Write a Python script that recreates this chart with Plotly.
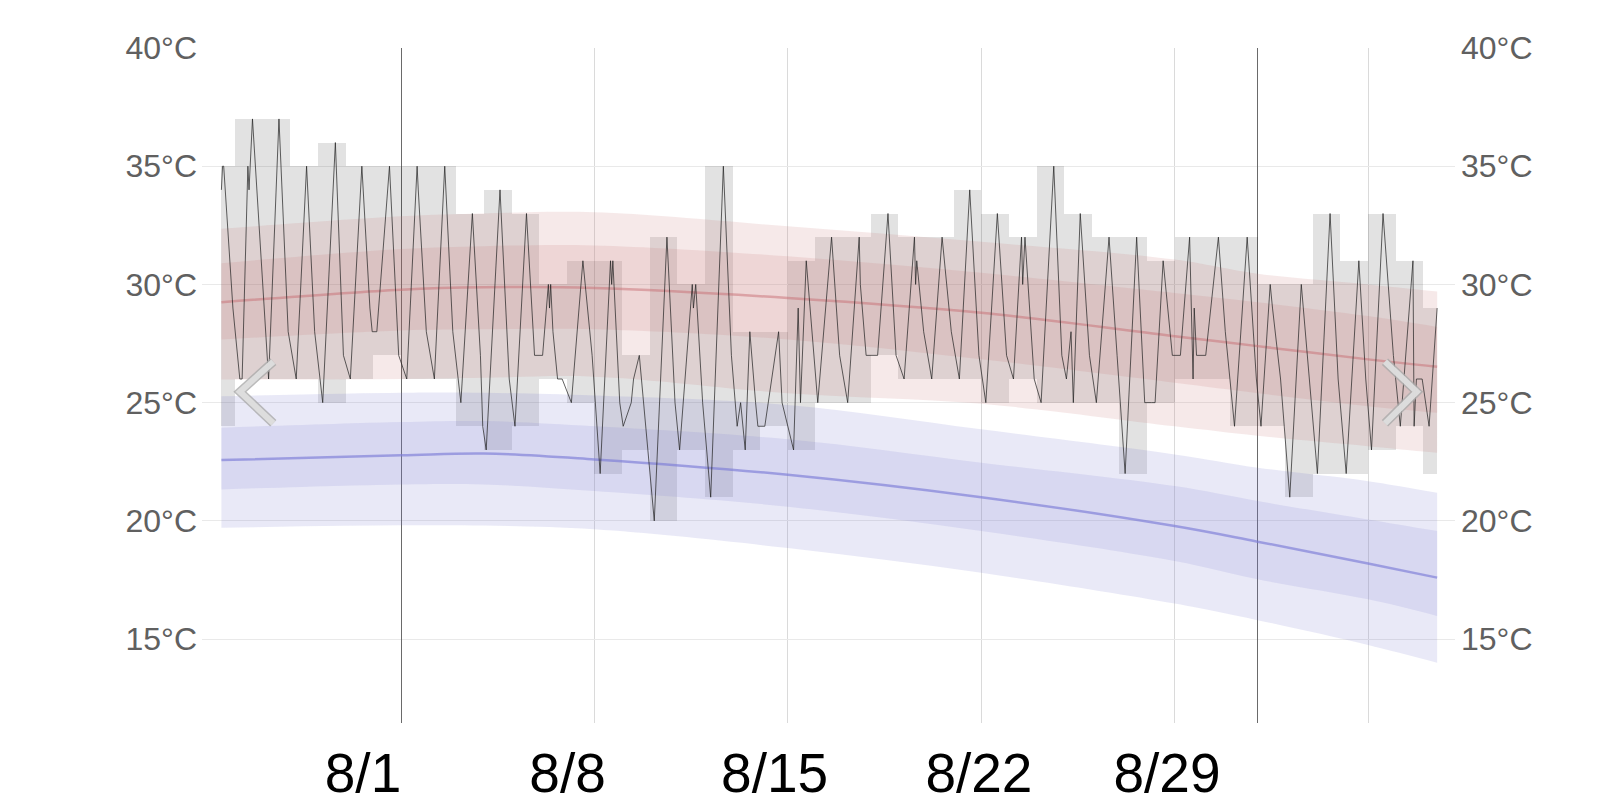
import plotly.graph_objects as go
from datetime import datetime, timedelta

# ---------------- data ----------------
first_day = "2024-07-25"
obs_start = "2024-07-25 12:00"
obs_end = "2024-09-07 12:00"

# daily observed max / min (°C), Jul 25 ... Sep 7
day_max = [35, 37, 37, 35, 36, 35, 35,
           35, 35, 33, 34, 33, 30, 31,
           31, 27, 32, 30, 35, 28, 28,
           31, 32, 32, 33, 32, 32, 34,
           33, 32, 35, 33, 32, 32, 31,
           32, 32, 32, 30, 30, 33, 31,
           33, 31, 29]
day_min = [24, 26, 26, 26, 25, 26, 27,
           26, 26, 24, 23, 24, 26, 25,
           22, 23, 20, 23, 21, 23, 24,
           23, 25, 25, 27, 26, 26, 26,
           25, 26, 25, 25, 25, 22, 25,
           26, 26, 24, 24, 21, 22, 22,
           23, 24, 22]

# observed temperature trace: (month-day, [(hour, °C), ...])
obs_line = [
    ("07-25", [(12, 34), (13, 35), (14, 35), (22, 29)]),
    ("07-26", [(4, 26), (6, 26), (11, 35), (12, 34), (15, 37)]),
    ("07-27", [(5, 26), (14, 37), (22, 28)]),
    ("07-28", [(5, 26), (14, 35), (21, 28)]),
    ("07-29", [(4, 25), (15, 36), (22, 27)]),
    ("07-30", [(4, 26), (14, 35), (21, 29), (23, 28)]),
    ("07-31", [(3, 28), (14, 35), (22, 27)]),
    ("08-01", [(5, 26), (14, 35), (15, 34), (22, 28)]),
    ("08-02", [(5, 26), (14, 35), (21, 28)]),
    ("08-03", [(4, 25), (14, 33), (21, 27), (23, 24)]),
    ("08-04", [(2, 23), (14, 34), (22, 26)]),
    ("08-05", [(3, 24), (13, 33), (20, 27)]),
    ("08-06", [(3, 27), (8, 30), (9, 29), (10, 30), (12, 28), (16, 26), (20, 26)]),
    ("08-07", [(4, 25), (14, 31), (22, 27)]),
    ("08-08", [(5, 22), (14, 31), (15, 30), (16, 31), (22, 25)]),
    ("08-09", [(1, 24), (8, 25), (10, 26), (15, 27)]),
    ("08-10", [(4, 20), (15, 32), (22, 25)]),
    ("08-11", [(2, 23), (13, 30), (14, 29), (16, 30), (22, 25)]),
    ("08-12", [(5, 21), (16, 35), (23, 27)]),
    ("08-13", [(4, 24), (7, 25), (11, 23), (15, 28), (20, 25), (22, 24)]),
    ("08-14", [(4, 24), (13, 27), (16, 28), (19, 25)]),
    ("08-15", [(5, 23), (9, 29), (11, 25), (16, 31)]),
    ("08-16", [(2, 25), (14, 32), (21, 27)]),
    ("08-17", [(4, 25), (14, 32), (15, 30), (20, 27)]),
    ("08-18", [(6, 27), (15, 33), (22, 27)]),
    ("08-19", [(5, 26), (14, 32), (15, 30), (16, 31), (22, 28)]),
    ("08-20", [(5, 26), (14, 32), (22, 28)]),
    ("08-21", [(5, 26), (14, 34), (22, 27)]),
    ("08-22", [(4, 25), (14, 33), (22, 27)]),
    ("08-23", [(4, 26), (11, 32), (12, 30), (14, 32), (22, 26)]),
    ("08-24", [(4, 25), (15, 35), (22, 27)]),
    ("08-25", [(2, 26), (6, 28), (8, 25), (14, 33), (22, 27)]),
    ("08-26", [(4, 25), (15, 32), (22, 27)]),
    ("08-27", [(5, 22), (15, 32), (22, 25)]),
    ("08-28", [(4, 25), (7, 25), (14, 31), (22, 27)]),
    ("08-29", [(5, 27), (13, 32), (16, 26), (17, 29), (19, 27), (23, 27)]),
    ("08-30", [(3, 27), (14, 32), (20, 28)]),
    ("08-31", [(4, 24), (15, 32), (23, 26)]),
    ("09-01", [(3, 24), (11, 30), (13, 29), (20, 26)]),
    ("09-02", [(4, 21), (14, 30), (21, 26)]),
    ("09-03", [(4, 22), (15, 33), (22, 26)]),
    ("09-04", [(5, 22), (16, 31), (22, 26)]),
    ("09-05", [(3, 23), (13, 33), (22, 27)]),
    ("09-06", [(4, 24), (15, 31), (16, 24), (18, 26), (23, 26)]),
    ("09-07", [(5, 24), (12, 29)]),
]

# climate normals (°C) sampled along the period
norm_dates = ["2024-07-25 12:00", "2024-08-01", "2024-08-04", "2024-08-08", "2024-08-15",
              "2024-08-22", "2024-08-29", "2024-09-01", "2024-09-05", "2024-09-07 12:00"]
hi_p10 = [25.98, 26.00, 26.05, 26.10, 25.40, 24.95, 24.00, 23.60, 23.16, 22.88]
hi_p25 = [27.67, 28.05, 28.10, 28.10, 27.67, 26.83, 25.84, 25.40, 24.85, 24.57]
hi_mid = [29.25, 29.78, 29.88, 29.85, 29.43, 28.80, 27.81, 27.39, 26.83, 26.52]
hi_p75 = [30.90, 31.50, 31.62, 31.65, 31.19, 30.49, 29.64, 29.25, 28.66, 28.20]
hi_p90 = [32.35, 32.88, 33.00, 33.05, 32.46, 31.80, 31.05, 30.45, 30.00, 29.70]
lo_p10 = [19.71, 19.81, 19.80, 19.64, 18.85, 17.80, 16.50, 15.80, 14.75, 14.00]
lo_p25 = [21.33, 21.54, 21.54, 21.26, 20.60, 19.57, 18.30, 17.53, 16.68, 15.98]
lo_mid = [22.57, 22.77, 22.85, 22.60, 21.95, 21.00, 19.78, 19.12, 18.20, 17.60]
lo_p75 = [23.94, 24.18, 24.22, 24.00, 23.45, 22.46, 21.47, 20.84, 20.06, 19.57]
lo_p90 = [25.27, 25.42, 25.42, 25.30, 24.90, 23.87, 22.81, 22.25, 21.68, 21.19]

# axes
x_range = ["2024-07-24 19:09", "2024-09-08 03:31"]
y_range = [11.45, 40.0]
y_ticks = [15, 20, 25, 30, 35, 40]
y_text = ["15°C", "20°C", "25°C", "30°C", "35°C", "40°C"]
label_vals = ["2024-07-30 15:00", "2024-08-07 00:40", "2024-08-14 12:30",
              "2024-08-21 22:00", "2024-08-28 17:20"]
label_text = ["8/1", "8/8", "8/15", "8/22", "8/29"]
week_lines = ["2024-08-08", "2024-08-15", "2024-08-22", "2024-08-29", "2024-09-05"]
month_lines = ["2024-08-01", "2024-09-01"]

# ---------------- build ----------------
fmt = "%Y-%m-%d %H:%M"
t0 = datetime.strptime(first_day, "%Y-%m-%d")
s0 = datetime.strptime(obs_start, fmt)
s1 = datetime.strptime(obs_end, fmt)

bar_x, bar_w, bar_h, bar_b = [], [], [], []
for i, (hi, lo) in enumerate(zip(day_max, day_min)):
    d0 = t0 + timedelta(days=i)
    a = max(d0, s0)
    b = min(d0 + timedelta(days=1), s1)
    bar_x.append(a + (b - a) / 2)
    bar_w.append((b - a).total_seconds() * 1000)
    bar_h.append(hi - lo)
    bar_b.append(lo)

line_x, line_y = [], []
for md, pts in obs_line:
    base = datetime.strptime("2024-" + md, "%Y-%m-%d")
    for h, t in pts:
        line_x.append(base + timedelta(hours=h))
        line_y.append(t)

fig = go.Figure()

fig.add_trace(go.Bar(x=bar_x, y=bar_h, base=bar_b, width=bar_w,
                     marker=dict(color="rgba(0,0,0,0.115)", line=dict(width=0)),
                     hoverinfo="skip"))

def band(lo, hi, color):
    fig.add_trace(go.Scatter(x=norm_dates, y=lo, mode="lines", line=dict(width=0, shape="spline"),
                             hoverinfo="skip"))
    fig.add_trace(go.Scatter(x=norm_dates, y=hi, mode="lines", line=dict(width=0, shape="spline"),
                             fill="tonexty", fillcolor=color, hoverinfo="skip"))

band(lo_p10, lo_p90, "rgba(120,120,205,0.16)")
band(lo_p25, lo_p75, "rgba(120,120,205,0.15)")
fig.add_trace(go.Scatter(x=norm_dates, y=lo_mid, mode="lines",
                         line=dict(color="rgba(125,125,215,0.65)", width=2.5, shape="spline")))
band(hi_p10, hi_p90, "rgba(200,125,125,0.17)")
band(hi_p25, hi_p75, "rgba(200,125,125,0.17)")
fig.add_trace(go.Scatter(x=norm_dates, y=hi_mid, mode="lines",
                         line=dict(color="rgba(200,110,115,0.5)", width=2.5, shape="spline")))

fig.add_trace(go.Scatter(x=line_x, y=line_y, mode="lines",
                         line=dict(color="rgba(35,35,35,0.85)", width=0.85)))

# invisible trace carrying the overlay axes (month lines, right labels)
fig.add_trace(go.Scatter(x=norm_dates, y=hi_mid, xaxis="x2", yaxis="y2", mode="lines",
                         line=dict(width=0), opacity=0, hoverinfo="skip"))

# navigation chevrons (UI overlay)
for path in ["M 0.0569 0.5353 L 0.0303 0.4908 L 0.0569 0.4440",
             "M 0.9441 0.5353 L 0.9695 0.4908 L 0.9441 0.4440"]:
    fig.add_shape(type="path", path=path, xref="paper", yref="paper",
                  line=dict(color="rgba(170,170,170,0.8)", width=9), layer="above")
    fig.add_shape(type="path", path=path, xref="paper", yref="paper",
                  line=dict(color="rgba(222,222,222,0.95)", width=6), layer="above")

tickfont_y = dict(family="Liberation Sans, Arial, sans-serif", size=32, color="#606060")

fig.update_layout(
    width=1618, height=805,
    margin=dict(l=202, r=163, t=48, b=82, pad=0),
    paper_bgcolor="white", plot_bgcolor="white",
    showlegend=False, barmode="overlay", bargap=0,
    xaxis=dict(type="date", range=x_range, showgrid=False, zeroline=False, showline=False,
               automargin=False,
               tickmode="array", tickvals=label_vals, ticktext=label_text, ticks="",
               ticklabelstandoff=13,
               tickfont=dict(family="Liberation Sans, Arial, sans-serif", size=55, color="black"),
               minor=dict(tickmode="array", tickvals=week_lines, showgrid=True,
                          gridcolor="#dadada", gridwidth=1, ticks="")),
    xaxis2=dict(type="date", overlaying="x", range=x_range, showgrid=True, gridcolor="#6a6a6a",
                gridwidth=1, tickmode="array", tickvals=month_lines, showticklabels=False,
                automargin=False, ticks="", zeroline=False, showline=False),
    yaxis=dict(range=y_range, tickmode="array", tickvals=y_ticks, ticktext=y_text,
               automargin=False,
               showgrid=True, gridcolor="#e9e9e9", gridwidth=1, zeroline=False, showline=False,
               ticks="", ticklabelstandoff=4, tickfont=tickfont_y),
    yaxis2=dict(overlaying="y", side="right", range=y_range, tickmode="array", tickvals=y_ticks,
                automargin=False,
                ticktext=y_text, showgrid=False, zeroline=False, showline=False, ticks="",
                ticklabelstandoff=5, tickfont=tickfont_y),
)

fig.write_html("out.html", config={"displayModeBar": False})

# remove the browser's default page margin so the figure fills the window exactly
with open("out.html", encoding="utf-8") as f:
    html = f.read()
html = html.replace("<body>", '<body style="margin:0;overflow:hidden">', 1)
with open("out.html", "w", encoding="utf-8") as f:
    f.write(html)
